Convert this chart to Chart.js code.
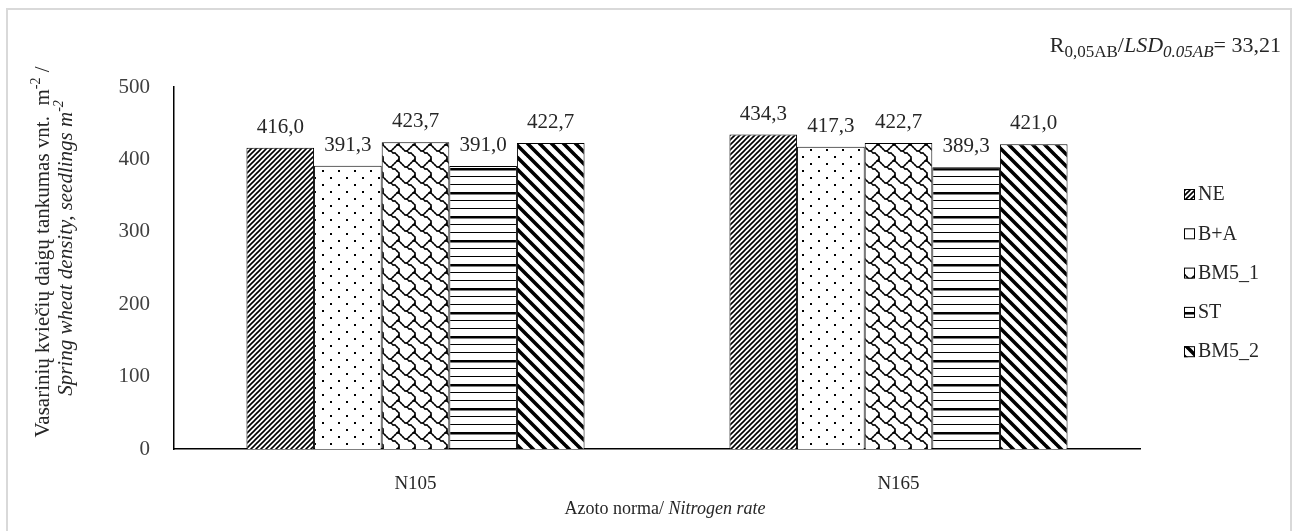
<!DOCTYPE html>
<html>
<head>
<meta charset="utf-8">
<script src="https://cdn.jsdelivr.net/npm/chart.js@4.4.1/dist/chart.umd.min.js"></script>
<style>
  html, body { margin: 0; padding: 0; background: #fff; }
  canvas { display: block; }
</style>
</head>
<body>
<canvas id="c" width="1293" height="531"></canvas>
<script>
const categories = ['N105', 'N165'];
const seriesNames = ['NE', 'B+A', 'BM5_1', 'ST', 'BM5_2'];
const valuesNE = [416.0, 434.3];
const valuesBA = [391.3, 417.3];
const valuesBM51 = [423.7, 422.7];
const valuesST = [391.0, 389.3];
const valuesBM52 = [422.7, 421.0];
const yMax = 500;
const yStep = 100;
const lsdValue = '33,21';

const SERIF = '"Liberation Serif", "Times New Roman", serif';
const TEXT = '#262626';
const TICK = '#404040';

function makePattern(w, h, draw) {
  const cv = document.createElement('canvas');
  cv.width = w;
  cv.height = h;
  const g = cv.getContext('2d');
  g.fillStyle = '#fff';
  g.fillRect(0, 0, w, h);
  g.strokeStyle = '#000';
  g.fillStyle = '#000';
  draw(g, w, h);
  return document.getElementById('c').getContext('2d').createPattern(cv, 'repeat');
}

function diag(g, s, up) {
  // repeatable diagonal line across a square tile
  g.beginPath();
  if (up) {
    g.moveTo(-1, s + 1); g.lineTo(s + 1, -1);
    g.moveTo(-1, 1); g.lineTo(1, -1);
    g.moveTo(s - 1, s + 1); g.lineTo(s + 1, s - 1);
  } else {
    g.moveTo(-1, -1); g.lineTo(s + 1, s + 1);
    g.moveTo(s - 1, -1); g.lineTo(s + 1, 1);
    g.moveTo(-1, s - 1); g.lineTo(1, s + 1);
  }
  g.stroke();
}

// 8x8 hatch bitmap (shingle); neighbouring bits joined by thin strokes
const shingleBits = [0x03, 0x84, 0x48, 0x30, 0x0c, 0x02, 0x01, 0x01];
const bit = (c, r) => (shingleBits[(r + 8) % 8] & (0x80 >> ((c + 8) % 8))) !== 0;

const patterns = [
  // NE: fine upward diagonal
  makePattern(5, 5, (g, w) => { g.lineWidth = 1.6; diag(g, w, true); }),
  // B+A: sparse dots
  makePattern(16, 14, (g) => { g.fillRect(2, 2, 2, 2); g.fillRect(10, 9, 2, 2); }),
  // BM5_1: shingle
  makePattern(16, 16, (g) => {
    g.lineWidth = 1.4;
    g.lineCap = 'round';
    const S = 2;
    for (let r = 0; r < 8; r++) {
      for (let c = 0; c < 8; c++) {
        if (!bit(c, r)) continue;
        for (const [dc, dr] of [[1, 0], [0, 1], [1, 1], [-1, 1]]) {
          if (!bit(c + dc, r + dr)) continue;
          for (const ox of [-16, 0, 16]) {
            for (const oy of [-16, 0, 16]) {
              g.beginPath();
              g.moveTo(c * S + 1 + ox, r * S + 1 + oy);
              g.lineTo((c + dc) * S + 1 + ox, (r + dr) * S + 1 + oy);
              g.stroke();
            }
          }
        }
      }
    }
  }),
  // ST: horizontal lines, thick and thin
  makePattern(8, 24, (g) => {
    g.fillRect(0, 0, 8, 2.5);
    g.fillRect(0, 8, 8, 1);
    g.fillRect(0, 16, 8, 1);
  }),
  // BM5_2: wide downward diagonal
  makePattern(12, 12, (g, w) => { g.lineWidth = 3.6; diag(g, w, false); }),
];

const seriesValues = [valuesNE, valuesBA, valuesBM51, valuesST, valuesBM52];

function drawRuns(ctx, runs, x, y, align) {
  const fontOf = (r) => `${r.it ? 'italic ' : ''}${r.sz || 21}px ${SERIF}`;
  let w = 0;
  for (const r of runs) { ctx.font = fontOf(r); w += ctx.measureText(r.t).width; }
  let cx = align === 'center' ? x - w / 2 : align === 'right' ? x - w : x;
  ctx.textAlign = 'left';
  ctx.textBaseline = 'alphabetic';
  for (const r of runs) {
    ctx.font = fontOf(r);
    ctx.fillText(r.t, cx, y + (r.dy || 0));
    cx += ctx.measureText(r.t).width;
  }
}

const fmt = (v) => v.toFixed(1).replace('.', ',');

const decorPlugin = {
  id: 'decor',
  beforeDraw(chart) {
    const ctx = chart.ctx;
    ctx.save();
    ctx.fillStyle = '#fff';
    ctx.fillRect(0, 0, chart.width, chart.height);
    ctx.strokeStyle = '#d9d9d9';
    ctx.lineWidth = 2;
    ctx.strokeRect(7, 9, 1284, 540);
    ctx.restore();
  },
  afterDatasetsDraw(chart) {
    const ctx = chart.ctx;
    ctx.save();
    ctx.fillStyle = TEXT;
    ctx.font = `21px ${SERIF}`;
    ctx.textAlign = 'center';
    ctx.textBaseline = 'alphabetic';
    chart.data.datasets.forEach((ds, i) => {
      chart.getDatasetMeta(i).data.forEach((bar, j) => {
        ctx.fillText(fmt(ds.data[j]), bar.x, bar.y - 15);
      });
    });
    ctx.restore();
  },
  afterDraw(chart) {
    const ctx = chart.ctx;
    ctx.save();

    // legend
    chart.data.datasets.forEach((ds, i) => {
      const yc = 194 + i * 39.3;
      ctx.fillStyle = ds.backgroundColor;
      ctx.fillRect(1184, yc - 5, 11, 11);
      ctx.strokeStyle = '#000';
      ctx.lineWidth = 1;
      ctx.strokeRect(1184.5, yc - 4.5, 10, 10);
      ctx.fillStyle = TEXT;
      ctx.font = `20px ${SERIF}`;
      ctx.textAlign = 'left';
      ctx.textBaseline = 'middle';
      ctx.fillText(ds.label, 1198, yc + 1);
    });

    // LSD note
    ctx.fillStyle = TEXT;
    drawRuns(ctx, [
      { t: 'R', sz: 22 },
      { t: '0,05AB', sz: 17, dy: 5 },
      { t: '/', sz: 22 },
      { t: 'LSD', it: true, sz: 22 },
      { t: '0.05AB', it: true, sz: 17, dy: 5 },
      { t: '= ' + lsdValue, sz: 22 },
    ], 1281, 52, 'right');

    // x title
    drawRuns(ctx, [{ t: 'Azoto norma/ ', sz: 18 }, { t: 'Nitrogen rate', it: true, sz: 18 }], 665, 514, 'center');

    // y title (two rotated lines)
    ctx.save();
    ctx.translate(49, 252);
    ctx.rotate(-Math.PI / 2);
    drawRuns(ctx, [
      { t: 'Vasarinių kviečių daigų tankumas vnt.  m' },
      { t: '-2', sz: 14, dy: -9 },
      { t: ' /' },
    ], 0, 0, 'center');
    ctx.restore();
    ctx.save();
    ctx.translate(72, 248);
    ctx.rotate(-Math.PI / 2);
    drawRuns(ctx, [
      { t: 'Spring wheat density, seedlings m', it: true },
      { t: '-2', it: true, sz: 14, dy: -9 },
    ], 0, 0, 'center');
    ctx.restore();

    ctx.restore();
  },
};

new Chart(document.getElementById('c'), {
  type: 'bar',
  data: {
    labels: categories,
    datasets: seriesNames.map((name, i) => ({
      label: name,
      data: seriesValues[i],
      backgroundColor: patterns[i],
      borderColor: '#000',
      borderWidth: 1,
      borderSkipped: 'bottom',
      categoryPercentage: 0.7,
      barPercentage: 1.0,
    })),
  },
  options: {
    responsive: false,
    animation: false,
    devicePixelRatio: 1,
    layout: { padding: { top: 87, right: 153, bottom: 21, left: 0 } },
    plugins: {
      legend: { display: false },
      tooltip: { enabled: false },
      title: { display: false },
    },
    scales: {
      x: {
        grid: { display: false },
        border: { display: true, color: '#000', width: 1.5 },
        ticks: { color: TEXT, font: { family: SERIF, size: 19 }, padding: 16 },
        afterFit: (s) => { s.height = 61; },
      },
      y: {
        min: 0,
        max: yMax,
        grid: { display: false },
        border: { display: true, color: '#000', width: 1.5 },
        ticks: { stepSize: yStep, color: TICK, font: { family: SERIF, size: 21 }, padding: 16 },
        afterFit: (s) => { s.width = 174; },
      },
    },
  },
  plugins: [decorPlugin],
});
</script>
</body>
</html>
